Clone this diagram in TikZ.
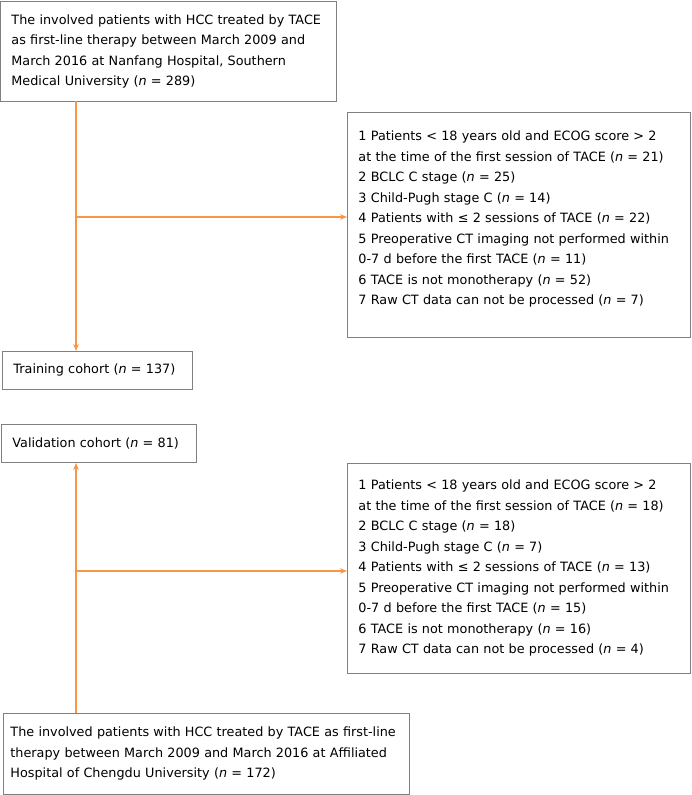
\documentclass[tikz,border=0pt]{standalone}
\usepackage{fontspec}
\setmainfont{DejaVu Sans}
\usetikzlibrary{arrows.meta,positioning,calc}
\definecolor{flowline}{RGB}{247,150,70}
\definecolor{boxline}{RGB}{128,128,128}
\newcommand{\lowstrut}{\rule[-14pt]{0pt}{14pt}}

\begin{document}
\begin{tikzpicture}[
    x=1pt, y=-1pt,
    box/.style={rectangle, draw=boxline, line width=0.9pt, anchor=north west, align=left, inner xsep=11pt, inner ysep=0pt, font=\fontsize{12.8}{20.5}\selectfont},
    exclbox/.style={box, text width=321pt},
    arrow/.style={-{Stealth[length=7pt,width=5.5pt]}, draw=flowline, line width=1.1pt}
]
    \useasboundingbox (0,0) rectangle (691,795);

    % Nanfang cohort
    \node[box, text width=314pt, minimum height=100pt] (nanfang) at (0,1)
        {The involved patients with HCC treated by TACE\\as first-line therapy between March 2009 and\\March 2016 at Nanfang Hospital, Southern\\Medical University (\textit{n} = 289)};

    % Exclusions, Nanfang
    \node[exclbox, minimum height=225pt] (excl1) at (347,112)
        {1 Patients < 18 years old and ECOG score > 2\\at the time of the first session of TACE (\textit{n} = 21)\\2 BCLC C stage (\textit{n} = 25)\\3 Child-Pugh stage C (\textit{n} = 14)\\4 Patients with ≤ 2 sessions of TACE (\textit{n} = 22)\\5 Preoperative CT imaging not performed within\\0-7 d before the first TACE (\textit{n} = 11)\\6 TACE is not monotherapy (\textit{n} = 52)\\7 Raw CT data can not be processed (\textit{n} = 7)\lowstrut};

    % Training cohort
    \node[box, text width=168pt, minimum height=38pt] (train) at (2,351)
        {Training cohort (\textit{n} = 137)};

    % Validation cohort
    \node[box, text width=173pt, minimum height=38pt] (valid) at (1,424)
        {Validation cohort (\textit{n} = 81)};

    % Exclusions, Chengdu
    \node[exclbox, minimum height=210pt] (excl2) at (347,463)
        {1 Patients < 18 years old and ECOG score > 2\\at the time of the first session of TACE (\textit{n} = 18)\\2 BCLC C stage (\textit{n} = 18)\\3 Child-Pugh stage C (\textit{n} = 7)\\4 Patients with ≤ 2 sessions of TACE (\textit{n} = 13)\\5 Preoperative CT imaging not performed within\\0-7 d before the first TACE (\textit{n} = 15)\\6 TACE is not monotherapy (\textit{n} = 16)\\7 Raw CT data can not be processed (\textit{n} = 4)};

    % Chengdu cohort
    \node[box, inner xsep=7pt, text width=392pt, minimum height=81pt] (chengdu) at (3,713)
        {The involved patients with HCC treated by TACE as first-line\\therapy between March 2009 and March 2016 at Affiliated\\Hospital of Chengdu University (\textit{n} = 172)};

    % Connectors, Nanfang
    \coordinate (down1) at (76,101);
    \coordinate (split1) at (76,217);
    \draw[arrow] (down1) -- (down1 |- train.north);
    \draw[arrow] (split1) -- (split1 -| excl1.west);

    % Connectors, Chengdu
    \coordinate (up2) at (76,713);
    \coordinate (split2) at (76,571);
    \draw[arrow] (up2) -- (up2 |- valid.south);
    \draw[arrow] (split2) -- (split2 -| excl2.west);
\end{tikzpicture}
\end{document}
